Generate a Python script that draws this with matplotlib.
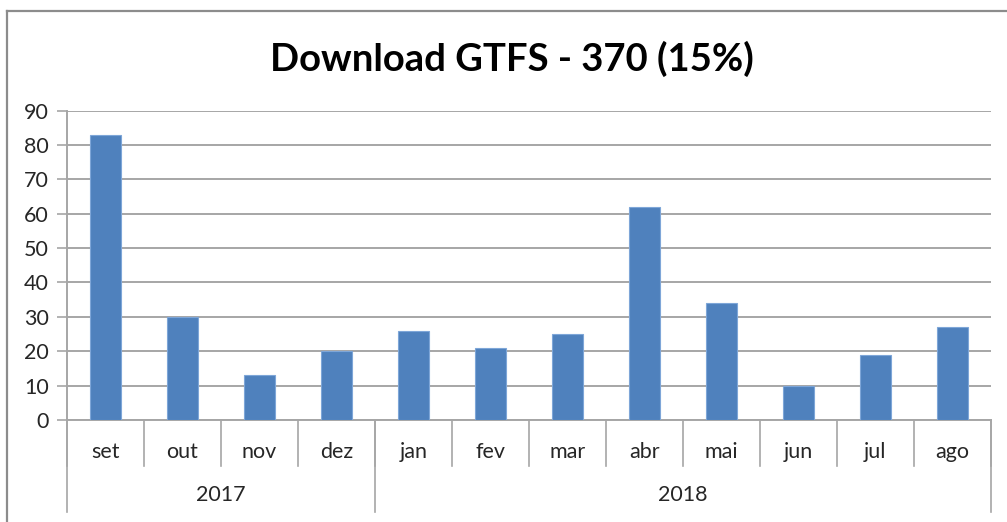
import matplotlib.pyplot as plt
from matplotlib.lines import Line2D
from matplotlib.transforms import blended_transform_factory

plt.rcParams['font.family'] = ['Lato', 'DejaVu Sans']

# dados
meses = ['set', 'out', 'nov', 'dez', 'jan', 'fev', 'mar', 'abr', 'mai', 'jun', 'jul', 'ago']
downloads = [83, 30, 13, 20, 26, 21, 25, 62, 34, 10, 19, 27]
anos = ['2017', '2018']
meses_por_ano = [4, 8]
titulo = 'Download GTFS - 370 (15%)'

cinza = '#a6a6a6'
azul = '#4f81bd'

fig = plt.figure(figsize=(10.07, 5.22), dpi=100)
ax = fig.add_axes([0.0665, 0.1954, 0.9175, 0.5929])

x = list(range(len(meses)))
ax.bar(x, downloads, width=0.41, color=azul, edgecolor='#7ea6d8', linewidth=0.8, zorder=3)

ax.set_xlim(-0.5, len(meses) - 0.5)
ax.set_ylim(0, 90)
ax.set_yticks(range(0, 91, 10))
ax.grid(axis='y', color=cinza, linewidth=1.4, zorder=0)
ax.tick_params(axis='y', length=7, width=1.2, color=cinza, labelsize=15.5, labelcolor='#262626', pad=6)
ax.set_xticks([])
for s in ['top', 'right']:
    ax.spines[s].set_visible(False)
for s in ['left', 'bottom']:
    ax.spines[s].set_color(cinza)
    ax.spines[s].set_linewidth(1.4)

# eixo de categorias em dois niveis
trans = blended_transform_factory(ax.transData, ax.transAxes)
for i in range(len(meses) + 1):
    ax.plot([i - 0.5, i - 0.5], [0, -0.149], transform=trans, color=cinza, lw=1.2, clip_on=False)
for i, m in enumerate(meses):
    ax.text(i, -0.103, m, transform=trans, ha='center', va='center', fontsize=15.5, color='#262626')

inicio = 0
for ano, n in zip(anos, meses_por_ano):
    ax.plot([inicio - 0.5, inicio - 0.5], [0, -0.297], transform=trans, color=cinza, lw=1.2, clip_on=False)
    ax.text(inicio + (n - 1) / 2, -0.242, ano, transform=trans, ha='center', va='center',
            fontsize=15.5, color='#262626')
    inicio += n
ax.plot([inicio - 0.5, inicio - 0.5], [0, -0.297], transform=trans, color=cinza, lw=1.2, clip_on=False)

fig.text(0.508, 0.888, titulo, ha='center', va='center', fontsize=27.5, fontweight='bold')

# borda do grafico
fig.add_artist(Line2D([0.0065, 0.0065], [0, 0.979], color='#8c8c8c', lw=1.6))
fig.add_artist(Line2D([0.0065, 1.0], [0.979, 0.979], color='#8c8c8c', lw=1.6))

fig.savefig('out.png', dpi=100)
